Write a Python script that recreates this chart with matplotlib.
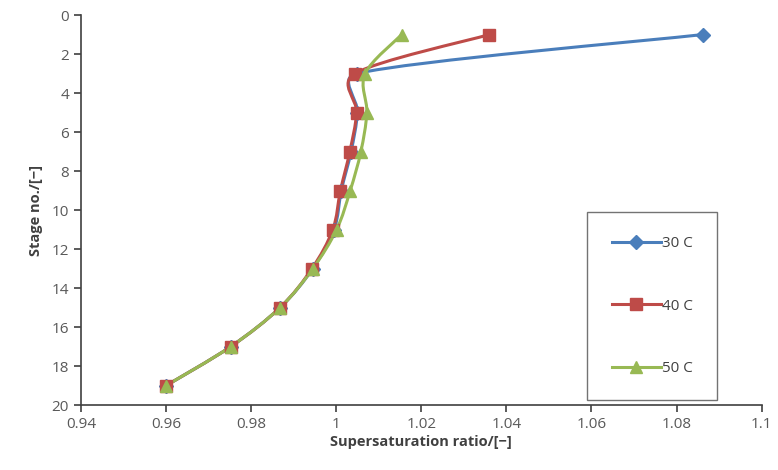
import matplotlib
matplotlib.use("Agg")
import matplotlib.pyplot as plt
import numpy as np
from matplotlib.path import Path
from matplotlib.patches import PathPatch
from matplotlib.lines import Line2D

plt.rcParams["font.family"] = ["Open Sans", "DejaVu Sans"]

stages = [1, 3, 5, 7, 9, 11, 13, 15, 17, 19]
s30 = [1.0862, 1.0048, 1.0050, 1.0035, 1.0012, 0.9995, 0.9945, 0.9868, 0.9752, 0.9600]
s40 = [1.0360, 1.0044, 1.0048, 1.0032, 1.0010, 0.9992, 0.9943, 0.9868, 0.9752, 0.9600]
s50 = [1.0154, 1.0068, 1.0072, 1.0058, 1.0033, 1.0001, 0.9945, 0.9868, 0.9752, 0.9600]

series = [
    ("30 C", s30, "#4A7EBB", "D", 7),
    ("40 C", s40, "#BE4B48", "s", 8),
    ("50 C", s50, "#98B954", "^", 9),
]


def smooth_path(ax, xs, ys):
    # Excel-like smoothed line, built in pixel space so the tangent
    # length can be capped by the neighbouring segment lengths
    pts = ax.transData.transform(np.column_stack([xs, ys]))
    n = len(pts)
    verts = [pts[0]]
    codes = [Path.MOVETO]

    def tangent(i):
        a = pts[max(i - 1, 0)]
        b = pts[min(i + 1, n - 1)]
        return (b - a) / 6.0

    for i in range(n - 1):
        p1, p2 = pts[i], pts[i + 1]
        seg = np.linalg.norm(p2 - p1)
        t1, t2 = tangent(i), tangent(i + 1)
        for t in (t1, t2):
            ln = np.linalg.norm(t)
            if ln > seg / 2.0:
                t *= (seg / 2.0) / ln
        verts += [p1 + t1, p2 - t2, p2]
        codes += [Path.CURVE4] * 3
    data = ax.transData.inverted().transform(np.array(verts))
    return Path(data, codes)


fig = plt.figure(figsize=(7.78, 4.70), dpi=100)
ax = fig.add_axes([0.104, 0.138, 0.875, 0.830])
ax.set_xlim(0.94, 1.1)
ax.set_ylim(20, 0)

handles = []
for label, vals, color, marker, ms in series:
    ax.add_patch(PathPatch(smooth_path(ax, vals, stages), fill=False,
                           edgecolor=color, lw=2.2, capstyle="round"))
    ax.plot(vals, stages, linestyle="none", marker=marker, ms=ms,
            color=color, markeredgecolor=color)
    handles.append(Line2D([], [], color=color, lw=2.2, marker=marker,
                          ms=ms, label=label))

ax.set_xticks([0.94, 0.96, 0.98, 1.0, 1.02, 1.04, 1.06, 1.08, 1.1])
ax.set_xticklabels(["0.94", "0.96", "0.98", "1", "1.02", "1.04", "1.06", "1.08", "1.1"])
ax.set_yticks(range(0, 21, 2))

for side in ["top", "right"]:
    ax.spines[side].set_visible(False)
for side in ["left", "bottom"]:
    ax.spines[side].set_color("#404040")
    ax.spines[side].set_linewidth(1.2)

ax.tick_params(axis="both", labelsize=11, labelcolor="#595959",
               color="#404040", length=5, width=1.2)

ax.set_xlabel("Supersaturation ratio/[\u2212]", fontsize=10.5,
              fontweight="bold", color="#404040", labelpad=2)
ax.set_ylabel("Stage no./[\u2212]", fontsize=10.5, fontweight="bold",
              color="#404040", labelpad=6)

leg = ax.legend(handles=handles, loc="lower right", bbox_to_anchor=(0.935, 0.012),
                frameon=True, fancybox=False, fontsize=11, labelspacing=3.1,
                borderpad=1.6, handlelength=3.2, handletextpad=0.1,
                borderaxespad=0)
leg.get_frame().set_edgecolor("#505050")
leg.get_frame().set_linewidth(1.0)
for t in leg.get_texts():
    t.set_color("#404040")

fig.savefig("out.png", dpi=100)
